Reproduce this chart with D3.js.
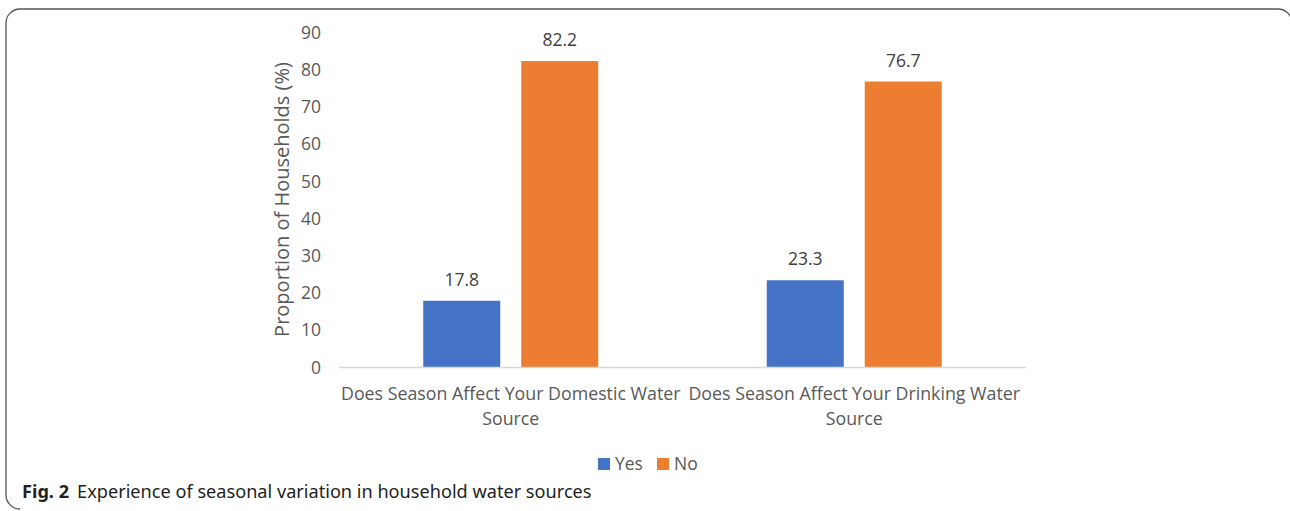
<!DOCTYPE html>
<html>
<head>
<meta charset="utf-8">
<script src="https://cdn.jsdelivr.net/npm/d3@7"></script>
<style>
  html, body { margin: 0; padding: 0; background: #fff; }
  svg { display: block; }
</style>
</head>
<body>
<div id="chart"></div>
<script>
// Survey responses on seasonal change in household water sources
const categories = [
  ["Does Season Affect Your Domestic Water", "Source"],
  ["Does Season Affect Your Drinking Water", "Source"]
];
const seriesNames = ["Yes", "No"];
const yesValues = [17.8, 23.3];
const noValues = [82.2, 76.7];
const yTicks = [0, 10, 20, 30, 40, 50, 60, 70, 80, 90];
const seriesColors = ["#4472C4", "#ED7D31"];

const W = 1290, H = 511;
const svg = d3.select("#chart").append("svg").attr("width", W).attr("height", H);

// rounded frame around the figure
const r = 14;
svg.append("path")
  .attr("d", `M${W + 2},${9 + r} A${r},${r} 0 0 0 ${W + 2 - r},9 L${6 + r},9 A${r},${r} 0 0 0 6,${9 + r} L6,${509 - r} A${r},${r} 0 0 0 ${6 + r},509`)
  .attr("fill", "none").attr("stroke", "#555").attr("stroke-width", 1.3);

const plot = { left: 339, right: 1026, top: 32, bottom: 367 };
const textColor = "#595959";
const font = "'Open Sans', 'Noto Sans', sans-serif";

const x0 = d3.scaleBand().domain(d3.range(categories.length))
  .range([plot.left, plot.right]).paddingInner(0).paddingOuter(0);
const x1 = d3.scaleBand().domain(seriesNames)
  .range([x0.bandwidth() / 2 - 87.5, x0.bandwidth() / 2 + 87.5]).paddingInner(0.214).paddingOuter(0);
const y = d3.scaleLinear().domain([0, 90]).range([plot.bottom, plot.top]);

// y axis tick labels
const yAxis = d3.axisLeft(y).tickValues(yTicks).tickSize(0).tickPadding(0).tickFormat(d3.format("d"));
const yg = svg.append("g").attr("transform", `translate(321,0)`).call(yAxis);
yg.select(".domain").remove();
yg.selectAll("text").attr("fill", textColor).attr("font-family", font).attr("font-size", 17.5)
  .attr("dy", "0.35em");

// y axis title
svg.append("text")
  .attr("transform", `translate(282,${(plot.top + plot.bottom) / 2}) rotate(-90)`)
  .attr("text-anchor", "middle").attr("dy", "0.35em")
  .attr("fill", textColor).attr("font-family", font).attr("font-size", 20)
  .text("Proportion of Households (%)");

// bars
const rows = categories.map((c, i) => ({ i, values: [yesValues[i], noValues[i]] }));
const groups = svg.append("g").selectAll("g").data(rows).join("g")
  .attr("transform", d => `translate(${x0(d.i)},0)`);

groups.selectAll("rect").data(d => d.values.map((v, k) => ({ key: seriesNames[k], v, k })))
  .join("rect")
  .attr("x", d => x1(d.key))
  .attr("width", x1.bandwidth())
  .attr("y", d => y(d.v))
  .attr("height", d => y(0) - y(d.v))
  .attr("fill", d => seriesColors[d.k]);

groups.selectAll("text.val").data(d => d.values.map((v, k) => ({ key: seriesNames[k], v, k })))
  .join("text").attr("class", "val")
  .attr("x", d => x1(d.key) + x1.bandwidth() / 2)
  .attr("y", d => y(d.v) - 15)
  .attr("text-anchor", "middle")
  .attr("fill", "#404040").attr("font-family", font).attr("font-size", 17.5)
  .text(d => d3.format(".1f")(d.v));

// baseline
svg.append("line")
  .attr("x1", plot.left).attr("x2", plot.right)
  .attr("y1", y(0) + 0.5).attr("y2", y(0) + 0.5)
  .attr("stroke", "#d9d9d9").attr("stroke-width", 1.5);

// category labels
categories.forEach((lines, i) => {
  const t = svg.append("text")
    .attr("x", x0(i) + x0.bandwidth() / 2).attr("y", 400)
    .attr("text-anchor", "middle")
    .attr("fill", textColor).attr("font-family", font).attr("font-size", 17.8);
  lines.forEach((ln, j) => {
    t.append("tspan").attr("x", x0(i) + x0.bandwidth() / 2).attr("dy", j === 0 ? 0 : 25).text(ln);
  });
});

// legend
const legend = svg.append("g");
const legendX = [598, 657];
seriesNames.forEach((name, k) => {
  legend.append("rect").attr("x", legendX[k]).attr("y", 458).attr("width", 12).attr("height", 12)
    .attr("fill", seriesColors[k]);
  legend.append("text").attr("x", legendX[k] + 17).attr("y", 464).attr("dy", "0.35em")
    .attr("fill", textColor).attr("font-family", font).attr("font-size", 17.5).text(name);
});

// caption
const cap = svg.append("text").attr("x", 22).attr("y", 498)
  .attr("fill", "#231f20").attr("font-family", "'Noto Sans', sans-serif").attr("font-size", 18);
cap.append("tspan").attr("font-weight", "bold").text("Fig. 2");
cap.append("tspan").attr("dx", 8).text("Experience of seasonal variation in household water sources");
const bb = cap.node().getBBox();
cap.attr("transform", `translate(22,0) scale(${570 / bb.width},1) translate(-22,0)`);
</script>
</body>
</html>
